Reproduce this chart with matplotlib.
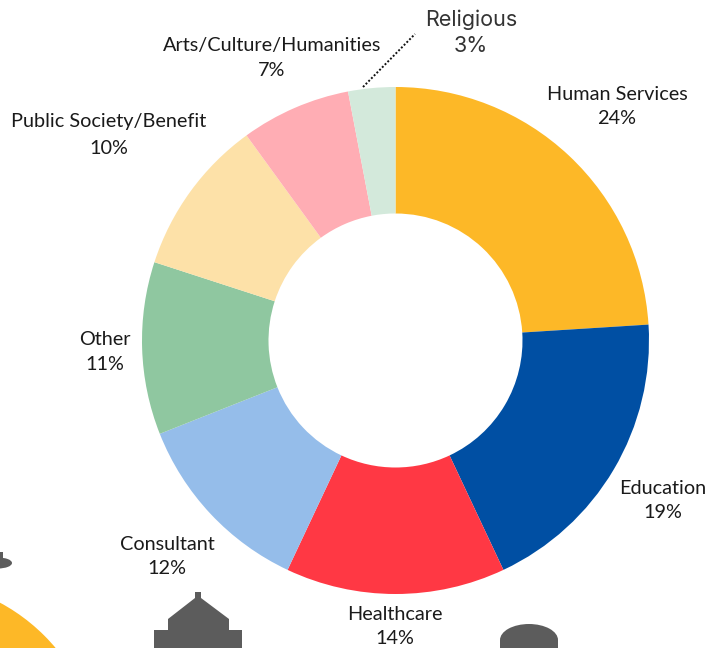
import matplotlib

matplotlib.use("Agg")
import matplotlib.pyplot as plt
from matplotlib.patches import Circle, Ellipse, Polygon, Rectangle

W, H = 717, 648

categories = ["Human Services", "Education", "Healthcare", "Consultant", "Other",
              "Public Society/Benefit", "Arts/Culture/Humanities", "Religious"]
shares = [24, 19, 14, 12, 11, 10, 7, 3]
colors = ["#FDB827", "#004FA3", "#FF3844", "#95BDEA", "#8FC7A0", "#FDE1A8", "#FFADB4", "#D3E9DB"]

# label centres in image pixels: name line, then percent line
name_pos = [(617, 94.5), (663, 489), (395, 614.5), (167, 544.5), (105, 339.5),
            (109, 122), (272, 46), (471, 20)]
pct_pos = [(617, 118), (663, 513), (395, 639), (167, 568), (105, 364),
           (109, 149), (272, 70), (471, 46)]

fig = plt.figure(figsize=(W / 100, H / 100), dpi=100)
ax = fig.add_axes([0, 0, 1, 1])


def py(y):
    return H - y


ax.pie(
    shares,
    colors=colors,
    startangle=90,
    counterclock=False,
    radius=253.5,
    center=(395.5, py(340.5)),
    wedgeprops={"width": 126.5, "edgecolor": "none"},
)
ax.set_xlim(0, W)
ax.set_ylim(0, H)
ax.set_aspect("equal")
ax.axis("off")

for name, share, (nx, ny), (px, pyy) in zip(categories, shares, name_pos, pct_pos):
    religious = name == "Religious"
    style = {
        "ha": "center",
        "va": "center",
        "family": "Inter" if religious else "Lato",
        "fontsize": 15.5 if religious else 14.3,
        "color": "#333333" if religious else "#1a1a1a",
    }
    ax.text(nx, py(ny), name, **style)
    ax.text(px, py(pyy), f"{share}%", **style)

# leader for the Religious slice
ax.plot([363, 415], [py(87), py(34)], color="#111111", lw=1.4, ls=(0, (1, 1)))

# cropped scenery along the bottom edge
gray = "#5c5c5c"
ax.add_patch(Circle((-90, py(770)), 190, color="#FDB827", lw=0))
ax.add_patch(Polygon(
    [(154, py(648)), (154, py(630)), (168, py(630)), (168, py(619)), (195, py(598)),
     (195, py(592)), (201, py(592)), (201, py(598)), (229, py(619)), (229, py(630)),
     (242, py(630)), (242, py(648))],
    closed=True, color=gray, lw=0))
ax.add_patch(Ellipse((529, py(640)), 58, 32, color=gray, lw=0))
ax.add_patch(Rectangle((500, 0), 58, py(640), color=gray, lw=0))
ax.add_patch(Ellipse((-2, py(563)), 28, 11, color=gray, lw=0))
ax.add_patch(Polygon([(0, py(552)), (3, py(552)), (3, py(560)), (0, py(560))], closed=True, color=gray, lw=0))

fig.savefig("out.png", dpi=100)
